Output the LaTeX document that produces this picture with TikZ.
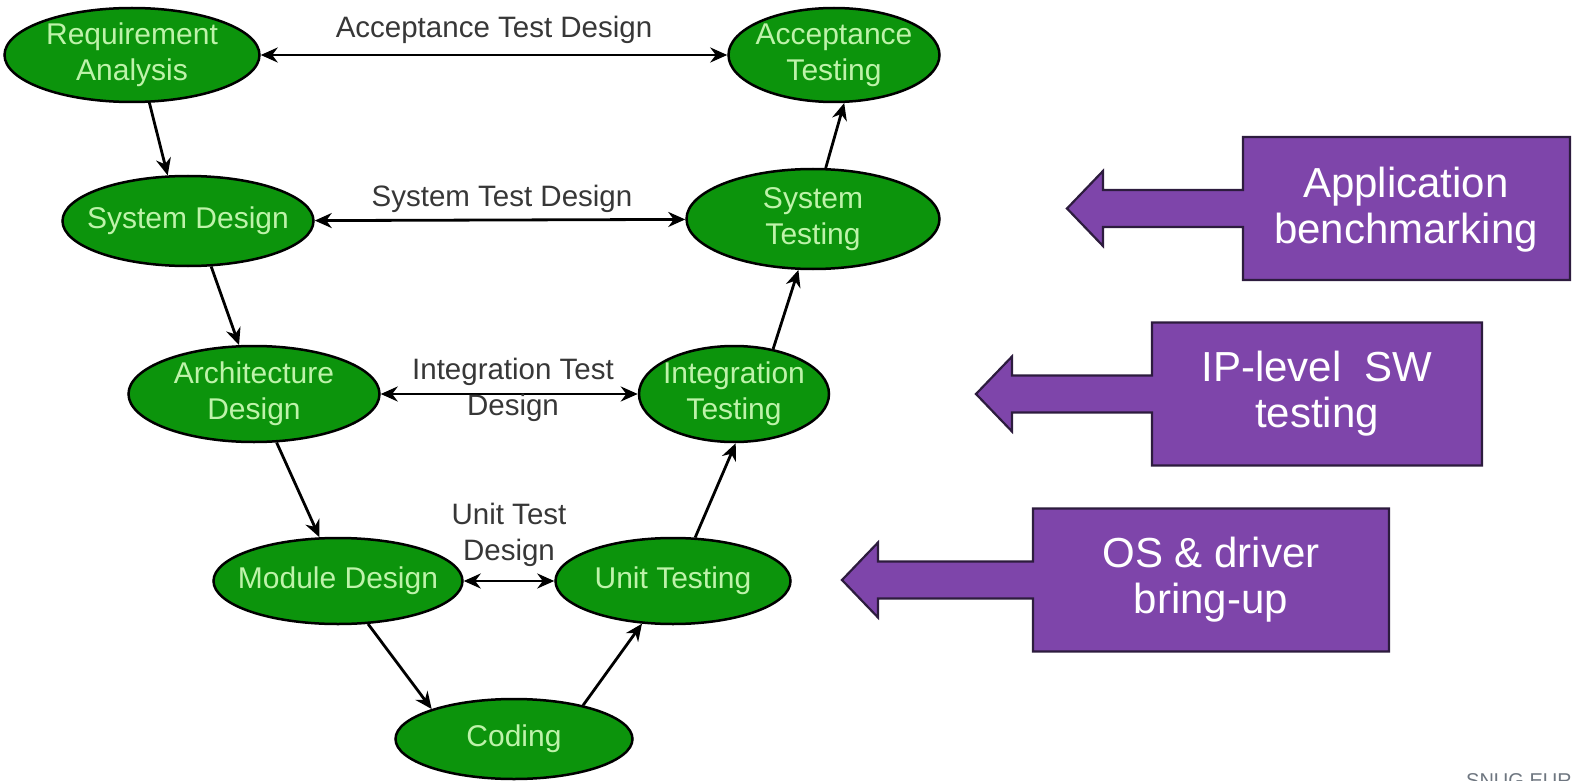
\documentclass[tikz,border=0pt]{standalone}
\usepackage{fontspec}
\setmainfont{Liberation Sans}
\usetikzlibrary{arrows.meta,shapes.geometric}
\definecolor{vgreen}{RGB}{12,148,12}
\definecolor{vtext}{RGB}{190,243,170}
\definecolor{lbl}{RGB}{55,55,55}
\definecolor{purp}{RGB}{126,69,170}
\definecolor{purpd}{RGB}{45,28,62}
\definecolor{snug}{RGB}{110,118,128}
\tikzset{
 phase/.style={ellipse, draw=black, line width=2.5pt, fill=vgreen, text=vtext, font=\fontsize{30}{36}\selectfont, align=center, inner xsep=-20pt, inner ysep=-5pt},
 flow/.style={-{Stealth[length=17pt,width=15pt]}, line width=2.8pt, draw=black},
 twoway/.style={{Stealth[length=17pt,width=15pt]}-{Stealth[length=17pt,width=15pt]}, line width=2.8pt, draw=black},
 elabel/.style={text=lbl, font=\fontsize{29.5}{36}\selectfont, align=center, inner sep=0pt},
 callout/.style={fill=purp, draw=purpd, line width=2.2pt, line join=miter},
 ctext/.style={text=white, font=\fontsize{42}{46}\selectfont, align=center, inner sep=0pt},
}
\begin{document}
\begin{tikzpicture}[x=1pt,y=-1pt]
\useasboundingbox (0,0) rectangle (1575,781);
\node[phase, minimum width=255pt, minimum height=94pt] (req) at (132,55) {Requirement\\Analysis};
\node[phase, minimum width=211pt, minimum height=94pt] (acc) at (834,55) {Acceptance\\Testing};
\node[phase, minimum width=251pt, minimum height=90pt] (sysd) at (188,221) {System Design};
\node[phase, minimum width=253pt, minimum height=100pt] (syst) at (813,219) {System\\Testing};
\node[phase, minimum width=251pt, minimum height=96pt] (arch) at (254,394) {Architecture\\Design};
\node[phase, minimum width=190pt, minimum height=96pt] (integ) at (734,394) {Integration\\Testing};
\node[phase, minimum width=249pt, minimum height=86pt] (mod) at (338,581) {Module Design};
\node[phase, minimum width=235pt, minimum height=86pt] (unit) at (673,581) {Unit Testing};
\node[phase, minimum width=237pt, minimum height=80pt] (code) at (514,739) {Coding};

\draw[twoway] (req) -- (acc);
\draw[twoway] (sysd) -- (syst);
\draw[twoway] (arch) -- (integ);
\draw[twoway] (mod) -- (unit);

\draw[flow] (req.-70) -- (sysd.114);
\draw[flow] (sysd.-63) -- (arch.107);
\draw[flow] (arch.-65) -- (mod.113);
\draw[flow] (mod.-55) -- (code.160);
\draw[flow] (code.26) -- (unit.-126);
\draw[flow] (unit.63) -- (integ.-88);
\draw[flow] (integ.49) -- (syst.-106);
\draw[flow] (syst.76) -- (acc.-78);

\node[elabel] (lacc) at (494,30) {Acceptance Test Design};
\node[elabel] (lsys) at (502,199) {System Test Design};
\node[elabel] (lint) at (513,390) {Integration Test\\Design};
\node[elabel] (lunit) at (509,535) {Unit Test\\Design};

\draw[callout] (1570,137) -- (1243,137) -- (1243,190) -- (1103,190) -- (1103,171) -- (1067,208.5) -- (1103,246) -- (1103,227) -- (1243,227) -- (1243,280) -- (1570,280) -- cycle;
\node[ctext] (capp) at (1406,210) {Application\\benchmarking};

\draw[callout] (1482,322.5) -- (1152,322.5) -- (1152,375.5) -- (1012,375.5) -- (1012,356.5) -- (976,394) -- (1012,431.5) -- (1012,412.5) -- (1152,412.5) -- (1152,465.5) -- (1482,465.5) -- cycle;
\node[ctext] (cip) at (1317,394) {IP-level\ \ SW\\testing};

\draw[callout] (1389,508.5) -- (1033,508.5) -- (1033,561.5) -- (878,561.5) -- (878,542.5) -- (842,580) -- (878,617.5) -- (878,598.5) -- (1033,598.5) -- (1033,651.5) -- (1389,651.5) -- cycle;
\node[ctext] (cos) at (1211,580) {OS \& driver\\bring-up};

\begin{scope}
\clip (0,0) rectangle (1575,781);
\node[anchor=base west, text=snug, font=\fontsize{20}{24}\selectfont, inner sep=0pt] (snug) at (1466,787) {SNUG EUR};
\end{scope}
\end{tikzpicture}
\end{document}
